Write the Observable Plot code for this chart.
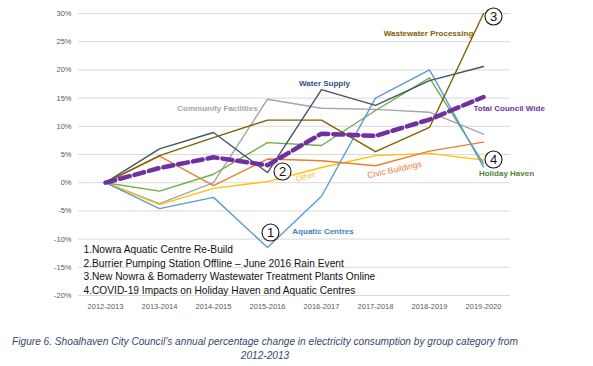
<!DOCTYPE html>
<html>
<head>
<meta charset="utf-8">
<script src="https://cdn.jsdelivr.net/npm/d3@7"></script>
<script src="https://cdn.jsdelivr.net/npm/@observablehq/plot@0.6"></script>
<style>
  html, body { margin: 0; padding: 0; background: #fff; }
  #chart svg { display: block; }
  #caption {
    width: 530px;
    margin-top: 17px;
    text-align: center;
    font-family: "Liberation Sans", Arial, sans-serif;
    font-style: italic;
    font-size: 10.15px;
    line-height: 14px;
    white-space: nowrap;
    color: #34496e;
  }
</style>
</head>
<body>
<div id="chart"></div>
<div id="caption">Figure 6. Shoalhaven City Council’s annual percentage change in electricity consumption by group category from<br>2012-2013</div>
<script>
// ---- Data ----
const years = ["2012-2013", "2013-2014", "2014-2015", "2015-2016", "2016-2017", "2017-2018", "2018-2019", "2019-2020"];
const yTicks = [-20, -15, -10, -5, 0, 5, 10, 15, 20, 25, 30];

const communityFacilities = [0, -3.7, 0.0, 14.8, 13.2, 13.0, 12.5, 8.6];
const waterSupply         = [0, 6.0, 8.9, 1.8, 16.5, 13.7, 18.1, 20.6];
const wastewater          = [0, 4.8, 8.0, 11.1, 11.1, 5.5, 9.8, 30.0];
const holidayHaven        = [0, -1.5, 1.5, 7.1, 6.6, 12.8, 18.6, 3.4];
const aquaticCentres      = [0, -4.6, -2.6, -11.5, -2.4, 15.0, 20.0, 2.8];
const civicBuildings      = [0, 4.7, -0.5, 4.2, 3.9, 3.0, 5.6, 7.2];
const other               = [0, -3.9, -1.0, 0.2, 2.7, 4.8, 5.2, 4.0];
const totalCouncilWide    = [0, 2.6, 4.5, 3.1, 8.7, 8.3, 11.2, 15.2];

const notes = [
  "1.Nowra Aquatic Centre Re-Build",
  "2.Burrier Pumping Station Offline – June 2016 Rain Event",
  "3.New Nowra & Bomaderry Wastewater Treatment Plants Online",
  "4.COVID-19 Impacts on Holiday Haven and Aquatic Centres"
];

// ---- Helpers ----
const pts = (values) => values.map((v, i) => ({i, v}));
const line = (values, stroke, extra = {}) =>
  Plot.line(pts(values), {x: "i", y: "v", stroke, strokeWidth: 1.4, ...extra});
const label = (text, values, i, opts) =>
  Plot.text([{i, v: values[i]}], {
    x: "i", y: "v", text: () => text,
    fontSize: 8, fontWeight: "bold",
    fontFamily: "Liberation Sans, Arial, sans-serif",
    ...opts
  });
const marker = (n, values, i, dx, dy) => [
  Plot.dot([{i, v: values[i]}], {x: "i", y: "v", r: 8.5, fill: "white", stroke: "#111", strokeWidth: 1.1, dx, dy}),
  Plot.text([{i, v: values[i]}], {x: "i", y: "v", text: () => String(n), dx, dy: dy + 0.5, fontSize: 13, fill: "#111",
    fontFamily: "Liberation Sans, Arial, sans-serif"})
];

const chart = Plot.plot({
  width: 593,
  height: 318,
  marginLeft: 78,
  marginRight: 83,
  marginTop: 13,
  marginBottom: 23,
  style: {fontFamily: "Liberation Sans, Arial, sans-serif", background: "white", overflow: "visible"},
  x: {domain: [-0.5, 7.5], axis: null},
  y: {domain: [-20, 30], axis: null},
  marks: [
    Plot.gridY(yTicks, {stroke: "#d9d9d9", strokeOpacity: 1, strokeWidth: 1}),
    Plot.axisY(yTicks, {tickSize: 0, tickPadding: 7, tickFormat: d => d + "%", fontSize: 7.5, fill: "#595959", label: null}),
    Plot.axisX(d3.range(years.length), {tickSize: 0, tickPadding: 8, tickFormat: i => years[i], fontSize: 7.5, fill: "#595959", label: null}),

    line(communityFacilities, "#a5a5a5"),
    line(other, "#ffc000"),
    line(civicBuildings, "#ed7d31"),
    line(holidayHaven, "#70ad47"),
    line(aquaticCentres, "#5b9bd5"),
    line(wastewater, "#7f6000"),
    line(waterSupply, "#44546a"),
    line(totalCouncilWide, "#7030a0", {strokeWidth: 4.5, strokeDasharray: "10,5"}),

    label("Community Facilities", communityFacilities, 3, {dx: -50, dy: 9.5, fill: "#a5a5a5"}),
    label("Water Supply", waterSupply, 4, {dx: 3, dy: -6, fill: "#2f4f82"}),
    label("Wastewater Processing", wastewater, 7, {dx: -55, dy: 19.5, fill: "#7f6000"}),
    label("Total Council Wide", totalCouncilWide, 7, {dx: -10, dy: 11, textAnchor: "start", fill: "#7030a0"}),
    label("Holiday Haven", holidayHaven, 7, {dx: 23, dy: 9.5, fill: "#548235"}),
    label("Civic Buildings", civicBuildings, 5, {dx: 19, dy: 4, rotate: -12, fontWeight: "normal", fontSize: 8.5, fill: "#e97d3f"}),
    label("Other", other, 3, {dx: 38, dy: -5, rotate: -15, fontWeight: "normal", fontSize: 8, fill: "#f2c12e"}),
    label("Aquatic Centres", aquaticCentres, 3, {dx: 55.5, dy: -16, fill: "#3f7fc0"}),

    ...marker(1, aquaticCentres, 3, 3, -15),
    ...marker(2, waterSupply, 3, 15, -1),
    ...marker(3, wastewater, 7, 10, 3),
    ...marker(4, holidayHaven, 7, 10, -4),

    Plot.text([notes.join("\n")], {
      frameAnchor: "bottom-left", dx: 5, dy: -2, lineAnchor: "bottom", textAnchor: "start",
      lineHeight: 1.31, fontSize: 10.2, fill: "#111",
      fontFamily: "Liberation Sans, Arial, sans-serif"
    })
  ]
});

document.getElementById("chart").appendChild(chart);
</script>
</body>
</html>
